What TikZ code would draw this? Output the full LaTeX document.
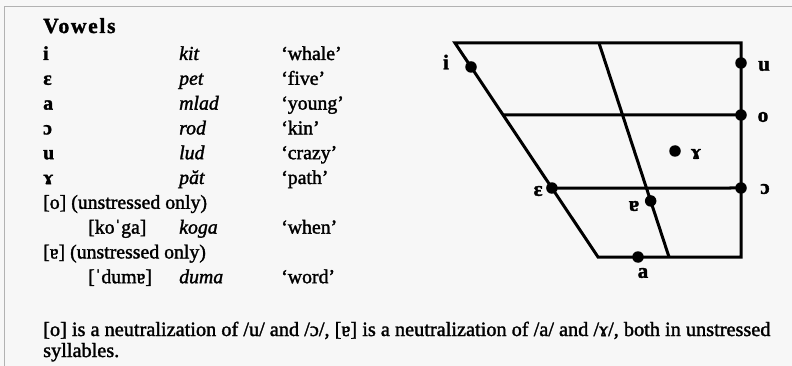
\documentclass[tikz,border=0pt]{standalone}
\usepackage{fontspec}
\setmainfont{Liberation Serif}[FakeBold=1.6]
\usetikzlibrary{calc}
\begin{document}
\begin{tikzpicture}[x=1pt,y=-1pt,
  tx/.style={anchor=base west,inner sep=0pt,font=\fontsize{19.8}{22}\selectfont},
  sym/.style={tx,font=\fontsize{19.8}{22}\selectfont\bfseries},
  lbl/.style={inner sep=0pt,font=\fontsize{21}{22}\selectfont\bfseries},
  chart/.style={line width=3pt},
  dot/.style={circle,fill=black,inner sep=0pt,minimum size=11.5pt}]
\useasboundingbox (0,0) rectangle (792,366);
\fill[black!3] (0,0) rectangle (792,366);
\draw[black!30,line width=1.5pt] (4.5,366) -- (4.5,6.5) -- (792,6.5);

% table
\node[tx,font=\fontsize{21.5}{22}\selectfont\bfseries\addfontfeature{LetterSpace=8}] (title) at (43,33) {Vowels};
\node[sym] (s1) at (43,60) {i};
\node[sym] (s2) at (43,84.8) {ɛ};
\node[sym] (s3) at (43,109.6) {a};
\node[sym] (s4) at (43,134.4) {ɔ};
\node[sym] (s5) at (43,159.2) {u};
\node[sym] (s6) at (43,184) {ɤ};
\node[tx] (s7) at (43,208.8) {[o] (unstressed only)};
\node[tx] (s8) at (88,233.6) {[koˈga]};
\node[tx] (s9) at (43,258.4) {[ɐ] (unstressed only)};
\node[tx] (s10) at (88,283.2) {[ˈdumɐ]};
\node[tx] (w1) at (179,60) {\itshape kit};
\node[tx] (w2) at (179,84.8) {\itshape pet};
\node[tx] (w3) at (179,109.6) {\itshape mlad};
\node[tx] (w4) at (179,134.4) {\itshape rod};
\node[tx] (w5) at (179,159.2) {\itshape lud};
\node[tx] (w6) at (179,184) {\itshape păt};
\node[tx] (w8) at (179,233.6) {\itshape koga};
\node[tx] (w10) at (179,283.2) {\itshape duma};
\node[tx] (g1) at (281,60) {‘whale’};
\node[tx] (g2) at (281,84.8) {‘five’};
\node[tx] (g3) at (281,109.6) {‘young’};
\node[tx] (g4) at (281,134.4) {‘kin’};
\node[tx] (g5) at (281,159.2) {‘crazy’};
\node[tx] (g6) at (281,184) {‘path’};
\node[tx] (g8) at (281,233.6) {‘when’};
\node[tx] (g10) at (281,283.2) {‘word’};

% chart
\coordinate (TL) at (455,43);
\coordinate (TR) at (741,43);
\coordinate (BL) at (598,257);
\coordinate (BR) at (741,257);
\coordinate (TM) at (599,43);
\coordinate (BM) at (669,257);
\coordinate (ML) at ($(TL)!0.3364!(BL)$);
\coordinate (MR) at (741,115);
\coordinate (LL) at ($(TL)!0.6776!(BL)$);
\coordinate (LR) at (741,188);
\draw[chart,line join=miter] (TL) -- (TR) -- (BR) -- (BL) -- cycle;
\draw[chart] (TM) -- (BM);
\draw[chart] (ML) -- (MR);
\draw[chart] (LL) -- (LR);

\node[dot] (di) at ($(TL)!0.112!(BL)$) {};
\node[dot] (du) at (741,63) {};
\node[dot] (do) at (741,115) {};
\node[dot] (dr) at (675,151) {};
\node[dot] (de) at (LL) {};
\node[dot] (dc) at (741,188) {};
\node[dot] (da) at ($(TM)!0.738!(BM)$) {};
\node[dot] (dlow) at (638,257) {};

\node[lbl] (li) at (446,62) {i};
\node[lbl] (lu) at (764,66) {u};
\node[lbl] (lo) at (763,117) {o};
\node[lbl] (lr) at (696,154) {ɤ};
\node[lbl] (le) at (538,191) {ɛ};
\node[lbl] (lc) at (765,189) {ɔ};
\node[lbl] (la) at (634,206) {ɐ};
\node[lbl] (llow) at (643,273) {a};

% footnote
\node[tx,font=\fontsize{20.3}{22}\selectfont] (f1) at (43,336) {[o] is a neutralization of /u/ and /ɔ/, [ɐ] is a neutralization of /a/ and /ɤ/, both in unstressed};
\node[tx,font=\fontsize{20.3}{22}\selectfont] (f2) at (43,357) {syllables.};
\end{tikzpicture}
\end{document}
